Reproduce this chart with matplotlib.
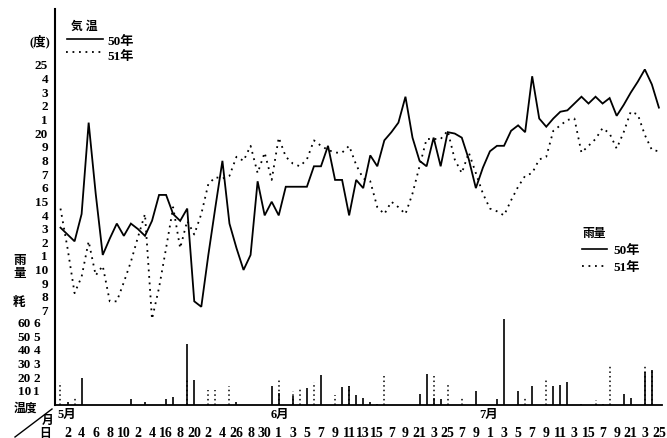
import matplotlib
matplotlib.use('Agg')
import matplotlib.pyplot as plt
import numpy as np
from matplotlib.transforms import blended_transform_factory
from matplotlib.lines import Line2D

plt.rcParams['font.family'] = ['Liberation Serif', 'Noto Sans CJK JP']
plt.rcParams['font.weight'] = 'bold'

# ---- data ----
days = np.arange(1, 87)  # 1 = May 1 ... 86 = July 25

temp_1975 = [13.0, 12.5, 12.0, 14.0, 20.7, 15.5, 11.0, 12.2, 13.3, 12.4,
             13.3, 12.9, 12.4, 13.5, 15.4, 15.4, 14.0, 13.5, 14.4, 7.6,
             7.2, 11.0, 14.5, 17.9, 13.3, 11.5, 9.9, 11.0, 16.4, 13.9,
             14.9, 13.9, 16.0, 16.0, 16.0, 16.0, 17.5, 17.5, 19.0, 16.5,
             16.5, 13.9, 16.5, 15.9, 18.3, 17.5, 19.4, 20.0, 20.7, 22.6,
             19.6, 17.9, 17.5, 19.6, 17.5, 20.0, 19.9, 19.6, 18.0, 15.9,
             17.4, 18.6, 19.0, 19.0, 20.1, 20.5, 20.0, 24.1, 21.0, 20.4,
             21.0, 21.5, 21.6, 22.1, 22.6, 22.1, 22.6, 22.1, 22.5, 21.2,
             22.0, 22.9, 23.7, 24.6, 23.5, 21.8]

temp_1976 = [14.4, 11.5, 8.2, 9.4, 12.0, 9.5, 10.2, 7.6, 7.6, 9.0,
             10.5, 12.3, 14.0, 6.3, 8.6, 11.5, 14.5, 11.5, 13.5, 12.5,
             14.0, 16.2, 16.7, 16.6, 16.8, 18.2, 17.9, 19.0, 17.0, 18.5,
             16.5, 19.6, 18.2, 17.7, 17.5, 18.0, 19.4, 19.0, 18.7, 18.5,
             18.5, 19.0, 17.6, 16.6, 16.4, 14.5, 14.0, 14.9, 14.5, 14.0,
             15.5, 17.5, 19.5, 19.5, 19.5, 20.1, 18.0, 17.0, 18.5, 17.0,
             15.5, 14.4, 14.2, 13.9, 15.0, 16.0, 16.8, 17.0, 18.0, 18.2,
             20.1, 20.5, 20.9, 21.0, 18.5, 19.0, 19.5, 20.3, 19.9, 18.8,
             20.0, 21.5, 21.3, 19.8, 18.7, 18.6]

rain_1975_days = [2, 4, 11, 13, 16, 17, 19, 20, 26, 31, 32, 34, 36, 38, 41, 42, 43,
                  44, 45, 46, 52, 53, 54, 55, 60, 63, 64, 66, 68, 71, 72, 73, 75,
                  77, 78, 81, 82, 84, 85]
rain_1975_mm = [2, 20, 4.4, 2, 4.4, 6, 45, 18.4, 2, 13.7, 8.6, 6.4, 12.7, 22, 13, 14, 7,
                5, 2, 1, 8, 22.8, 4.9, 4.4, 10, 4.4, 63, 10.5, 13.7, 13.7, 14.7, 16.7, 1,
                0.5, 0.5, 8, 4.9, 24, 25.7]

rain_1976_days = [1, 3, 19, 22, 23, 25, 32, 34, 35, 37, 40, 42, 47, 54, 56, 58, 67,
                  70, 77, 79, 84, 85]
rain_1976_mm = [16.7, 6.9, 19, 11, 11, 13.7, 18, 10, 12, 16.7, 7, 14, 21.5, 21, 14.7,
                5, 5, 19, 4, 29.6, 29.6, 25.7]

temp_ticks = list(range(7, 26))
temp_ticklabels = ['7', '8', '9', '10', '1', '2', '3', '4', '15', '6', '7', '8', '9',
                   '20', '1', '2', '3', '4', '25']
low_temp_ticks = [1, 2, 3, 4, 5, 6]
rain_ticks = [10, 20, 30, 40, 50, 60]

may_labels = ['2', '4', '6', '8', '10', '2', '4', '16', '8', '20', '2', '4', '26', '8', '30']
jun_labels = ['1', '3', '5', '7', '9', '11', '13', '15', '7', '9', '21', '3', '25', '7', '9']
jul_labels = ['1', '3', '5', '7', '9', '11', '3', '15', '7', '9', '21', '3', '25']
may_days = list(range(2, 31, 2))
jun_days = list(range(32, 61, 2))
jul_days = list(range(62, 87, 2))

# ---- figure ----
W, H = 667, 439
fig = plt.figure(figsize=(W / 100, H / 100), dpi=100)
ax = fig.add_axes([55 / W, 33 / H, 607 / W, 396 / H])
ax.set_xlim(0.22, 86.44)
ax.set_ylim(0, 29.03)
ax2 = ax.twinx()
ax2.set_ylim(0, 290.3)
ax2.axis('off')

ax.plot(days, temp_1975, color='black', lw=1.3, solid_joinstyle='miter')
ax.plot(days, temp_1976, color='black', lw=1.3, linestyle=(0, (1, 2.6)))

ax2.vlines(rain_1975_days, 0, rain_1975_mm, color='black', lw=1.2)
ax2.vlines(rain_1976_days, 0, rain_1976_mm, color='black', lw=1.1, linestyles=[(0, (1, 2))])

for s in ['top', 'right']:
    ax.spines[s].set_visible(False)
ax.spines['left'].set_linewidth(1.5)
ax.spines['bottom'].set_linewidth(1.3)

ax.set_yticks(temp_ticks)
ax.set_yticklabels(temp_ticklabels, fontsize=9.5, fontweight='bold')
ax.tick_params(axis='y', length=0, pad=5)

all_days = may_days + jun_days + jul_days
all_labels = may_labels + jun_labels + jul_labels
ax.set_xticks(all_days)
ax.set_xticklabels(all_labels, fontsize=10, fontweight='bold')
ax.tick_params(axis='x', length=0, pad=15)

trans_t = blended_transform_factory(ax.transAxes, ax.transData)
trans_r = blended_transform_factory(ax.transAxes, ax2.transData)
for v in low_temp_ticks:
    ax.text((40 - 55) / 607, v, str(v), transform=trans_t, ha='right', va='center',
            fontsize=9.5, fontweight='bold')
for v in rain_ticks:
    ax2.text((31 - 55) / 607, v, str(v), transform=trans_r, ha='right', va='center',
             fontsize=9.5, fontweight='bold')

ax.text((50 - 55) / 607, 26.7, '(度)', transform=trans_t, ha='right', va='center',
        fontsize=9, fontweight='bold')

# month labels
trans_x = blended_transform_factory(ax.transData, ax.transAxes)
for d, m in [(1.9, '5月'), (32.2, '6月'), (61.8, '7月')]:
    ax.text(d, -0.022, m, transform=trans_x, ha='center', va='center',
            fontsize=9, fontweight='bold')

def px(x, y):
    return x / W, 1 - y / H

# left side vertical label
fig.text(*px(20, 261), '雨', ha='center', va='center', fontsize=9, fontweight='bold')
fig.text(*px(20, 274), '量', ha='center', va='center', fontsize=9, fontweight='bold')
fig.text(*px(19, 303), '粍', ha='center', va='center', fontsize=9, fontweight='bold')

# corner labels
fig.text(*px(25, 409), '温度', ha='center', va='center', fontsize=8.5, fontweight='bold')
fig.text(*px(48, 421), '月', ha='center', va='center', fontsize=8.5, fontweight='bold')
fig.text(*px(45, 434), '日', ha='center', va='center', fontsize=8.5, fontweight='bold')
fig.add_artist(Line2D([15 / W, 52 / W], [1 - 438 / H, 1 - 410 / H], color='black', lw=1.0))

# temperature legend
fig.text(*px(84, 27), '気 温', ha='center', va='center', fontsize=8.5, fontweight='bold')
fig.add_artist(Line2D([67 / W, 103 / W], [1 - 40 / H, 1 - 40 / H], color='black', lw=1.2))
fig.text(*px(107, 42), '50年', ha='left', va='center', fontsize=9.5, fontweight='bold')
fig.add_artist(Line2D([66 / W, 103 / W], [1 - 53 / H, 1 - 53 / H], color='black', lw=1.3,
                      linestyle=(0, (1, 2.6))))
fig.text(*px(107, 57), '51年', ha='left', va='center', fontsize=9.5, fontweight='bold')

# rain legend
fig.text(*px(594, 234), '雨量', ha='center', va='center', fontsize=8.5, fontweight='bold')
fig.add_artist(Line2D([582 / W, 607 / W], [1 - 250 / H, 1 - 250 / H], color='black', lw=1.2))
fig.text(*px(613, 251), '50年', ha='left', va='center', fontsize=9.5, fontweight='bold')
fig.add_artist(Line2D([582 / W, 607 / W], [1 - 267 / H, 1 - 267 / H], color='black', lw=1.3,
                      linestyle=(0, (1, 2.6))))
fig.text(*px(613, 268), '51年', ha='left', va='center', fontsize=9.5, fontweight='bold')

fig.savefig('out.png', dpi=100)
